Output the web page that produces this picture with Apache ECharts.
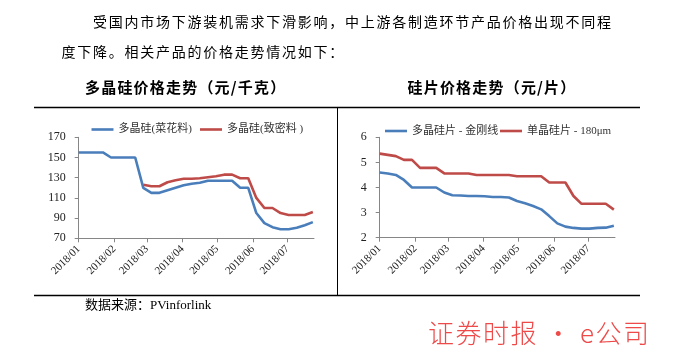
<!DOCTYPE html>
<html><head><meta charset="utf-8">
<script src="https://cdn.jsdelivr.net/npm/echarts@6/dist/echarts.min.js"></script>
<style>html,body{margin:0;padding:0;background:#fff}#c{width:684px;height:347px}</style>
</head><body><div id="c"></div>
<script>
// ---- text ----
const paraLine1 = '受国内市场下游装机需求下滑影响，中上游各制造环节产品价格出现不同程';
const paraLine2 = '度下降。相关产品的价格走势情况如下：';
const title1 = '多晶硅价格走势（元/千克）';
const title2 = '硅片价格走势（元/片）';
const sourceText = '数据来源：PVinforlink';
const watermark = '证券时报 • e公司';

// ---- x: weekly observations, days since 2018-01-01 ----
const days = [0,7,14,21,28,35,42,49,56,63,70,77,84,91,98,105,112,119,126,133,140,147,154,161,168,175,182,189,196,203];
const monthTickDays = [0,31,59,90,120,151,181];
const monthTickLabels = ['2018/01','2018/02','2018/03','2018/04','2018/05','2018/06','2018/07'];

// ---- polysilicon (元/千克) ----
const polyNames = ['多晶硅(菜花料)', '多晶硅(致密料 )'];
const polyCauliflower = [155,155,155,155,150,150,150,150,120,115,115,117.5,120,122.5,124,125,127,127,127,127,120,120,95,85,81,79,79,80.5,83,86];
const polyDense = [null,null,null,null,null,null,null,null,123,121.5,121.5,125.5,127.5,129,129,129.5,130.5,131.5,133,133,129.5,129.5,110,100,100,95,93,93,93,96];

// ---- wafers (元/片) ----
const waferNames = ['多晶硅片 - 金刚线', '单晶硅片 - 180μm'];
const waferPolyDW = [4.6,4.56,4.5,4.3,4.0,4.0,4.0,4.0,3.8,3.69,3.68,3.66,3.66,3.65,3.62,3.62,3.6,3.46,3.37,3.26,3.13,2.86,2.57,2.44,2.39,2.36,2.36,2.39,2.4,2.48];
const waferMono180 = [5.35,5.3,5.25,5.1,5.1,4.78,4.78,4.78,4.56,4.56,4.56,4.56,4.5,4.5,4.5,4.5,4.5,4.45,4.45,4.45,4.45,4.2,4.2,4.2,3.66,3.35,3.35,3.35,3.35,3.12];

const BLUE = '#4A7EBB', RED = '#BE4B48', AXIS = '#868686';
const CJK = '"Noto Sans CJK SC"';
const SERIF = '"Liberation Serif", "Noto Sans CJK SC", serif';

function pairs(vals) { return vals.map((v, i) => [days[i], v == null ? '-' : v]); }

const mctx = document.createElement('canvas').getContext('2d');
function spaced(str, x, y, font, extra, fill) {
  mctx.font = font;
  const out = [];
  let cx = x;
  for (const ch of str) {
    out.push({ type: 'text', x: cx, y: y, silent: true,
      style: { text: ch, font: font, fill: fill, textAlign: 'left', textVerticalAlign: 'middle' } });
    cx += mctx.measureText(ch).width + extra;
  }
  return out;
}

const paraFont = '14px ' + CJK;
const titleFont = 'bold 15px ' + CJK;
const graphics = [].concat(
  spaced(paraLine1, 93, 21.5, paraFont, 1.75, '#000'),
  spaced(paraLine2, 61.5, 52, paraFont, 1.75, '#000'),
  spaced(title1, 85, 87.5, titleFont, 1.2, '#000'),
  spaced(title2, 407.5, 87.5, titleFont, 1.2, '#000'),
  [
    { type: 'line', silent: true, shape: { x1: 34, y1: 107.5, x2: 640, y2: 107.5 }, style: { stroke: '#000', lineWidth: 1.5 } },
    { type: 'line', silent: true, shape: { x1: 337.5, y1: 107.5, x2: 337.5, y2: 295.5 }, style: { stroke: '#000', lineWidth: 1 } },
    { type: 'line', silent: true, shape: { x1: 34, y1: 295.5, x2: 640, y2: 295.5 }, style: { stroke: '#000', lineWidth: 1.5 } },
    { type: 'text', x: 85, y: 306, silent: true,
      style: { text: sourceText, font: '13px ' + SERIF, fill: '#000', textAlign: 'left', textVerticalAlign: 'middle' } }
  ],
  spaced(watermark, 428, 333, '300 26px ' + CJK, 1.5, '#EE4A4A')
);

function xAxis(gridIndex) {
  return {
    type: 'value', gridIndex: gridIndex, min: 0, max: 204,
    axisLine: { show: true, lineStyle: { color: AXIS, width: 1 } },
    axisTick: { show: true, length: 4, customValues: monthTickDays, lineStyle: { color: AXIS } },
    axisLabel: {
      customValues: monthTickDays, rotate: 45, margin: 9,
      fontFamily: SERIF, fontSize: 11, color: '#222',
      formatter: v => monthTickLabels[monthTickDays.indexOf(Math.round(v))] || ''
    },
    splitLine: { show: false }
  };
}
function yAxis(gridIndex, min, max, interval) {
  return {
    type: 'value', gridIndex: gridIndex, min: min, max: max, interval: interval,
    axisLine: { show: true, lineStyle: { color: AXIS, width: 1 } },
    axisTick: { show: true, length: 4, lineStyle: { color: AXIS } },
    axisLabel: { margin: 13, fontFamily: SERIF, fontSize: 12, color: '#222' },
    splitLine: { show: false }
  };
}
function lineSeries(name, vals, color, xi) {
  return {
    type: 'line', name: name, xAxisIndex: xi, yAxisIndex: xi, data: pairs(vals),
    symbol: 'none', showSymbol: false, lineStyle: { color: color, width: 2.6 }, itemStyle: { color: color },
    connectNulls: false, animation: false
  };
}
function legendItem(name, left, top) {
  return {
    data: [name], left: left, top: top, icon: 'rect', itemWidth: 22, itemHeight: 2.6,
    padding: 0, itemGap: 0,
    textStyle: { fontFamily: SERIF, fontSize: 11, color: '#333' }
  };
}

const chart = echarts.init(document.getElementById('c'), null, { renderer: 'canvas' });
chart.setOption({
  animation: false,
  backgroundColor: '#fff',
  grid: [
    { left: 78.7, right: 684 - 314, top: 137.3, bottom: 347 - 238.3 },
    { left: 379.7, right: 684 - 615, top: 137.3, bottom: 347 - 237.7 }
  ],
  xAxis: [xAxis(0), xAxis(1)],
  yAxis: [yAxis(0, 70, 170, 20), yAxis(1, 2, 6, 1)],
  legend: [
    legendItem(polyNames[0], 91.5, 124),
    legendItem(polyNames[1], 200, 124),
    legendItem(waferNames[0], 385, 125.5),
    legendItem(waferNames[1], 500, 125.5)
  ],
  series: [
    lineSeries(polyNames[0], polyCauliflower, BLUE, 0),
    lineSeries(polyNames[1], polyDense, RED, 0),
    lineSeries(waferNames[0], waferPolyDW, BLUE, 1),
    lineSeries(waferNames[1], waferMono180, RED, 1)
  ],
  graphic: graphics
});
</script>
</body></html>
